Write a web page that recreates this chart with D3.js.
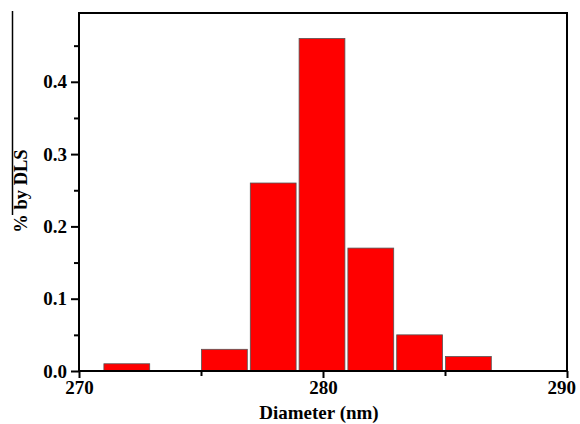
<!DOCTYPE html>
<html>
<head>
<meta charset="utf-8">
<script src="https://d3js.org/d3.v7.min.js"></script>
<style type="text/css">
body {margin:0;background:#fff;}
text {font-family:"Liberation Serif","Times New Roman",serif;font-weight:bold;fill:#000;}
</style>
</head>
<body>
<svg id="chart" width="580" height="424"></svg>
<script type="text/javascript">
// histogram bins (nm) and fraction by DLS
var binStart = [271, 275, 277, 279, 281, 283, 285];
var binEnd   = [273, 277, 279, 281, 283, 285, 287];
var pct      = [0.01, 0.03, 0.26, 0.46, 0.17, 0.05, 0.02];
var xTicks = [270, 280, 290];
var xMinor = [275, 285];
var yTicks = [0.0, 0.1, 0.2, 0.3, 0.4];
var yMinor = [0.05, 0.15, 0.25, 0.35, 0.45];

var svg = d3.select("#chart");
var pLeft = 79, pRight = 567, pTop = 13, pBottom = 371;

var x = d3.scaleLinear().domain([270, 290]).range([pLeft, pRight]);
var y = d3.scaleLinear().domain([0, 0.4]).range([pBottom, pBottom - 0.4 * 723]);

// bars
svg.selectAll("rect.bar").data(pct).enter().append("rect")
	.attr("class", "bar")
	.attr("x", function(d, i) { return x(binStart[i]) + 0.5; })
	.attr("width", function(d, i) { return x(binEnd[i]) - x(binStart[i]) - 3; })
	.attr("y", function(d) { return y(d); })
	.attr("height", function(d) { return pBottom - y(d); })
	.attr("fill", "#ff0000")
	.attr("stroke", "#555")
	.attr("stroke-width", 0.8);

// frame
svg.append("rect")
	.attr("x", pLeft).attr("y", pTop)
	.attr("width", pRight - pLeft).attr("height", pBottom - pTop)
	.attr("fill", "none").attr("stroke", "#000").attr("stroke-width", 2);

// y axis
svg.append("g").attr("transform", "translate(" + pLeft + ",0)")
	.call(d3.axisLeft(y).tickValues(yTicks).tickFormat(d3.format(".1f")).tickSize(8).tickPadding(4));
svg.append("g").attr("transform", "translate(" + pLeft + ",0)")
	.call(d3.axisLeft(y).tickValues(yMinor).tickFormat("").tickSize(5));

// x axis
var xAxis = svg.append("g").attr("transform", "translate(0," + pBottom + ")")
	.call(d3.axisBottom(x).tickValues(xTicks).tickFormat(d3.format("d")).tickSize(7).tickPadding(3));
svg.append("g").attr("transform", "translate(0," + pBottom + ")")
	.call(d3.axisBottom(x).tickValues(xMinor).tickFormat("").tickSize(5));

svg.selectAll(".domain").remove();
svg.selectAll(".tick line").attr("stroke", "#000").attr("stroke-width", 2);
svg.selectAll(".tick text")
	.attr("font-family", null).attr("font-size", null)
	.style("font-size", "19px");
// last x label sits against the page edge, as in the source
xAxis.selectAll(".tick text").filter(function(d) { return d === 290; }).attr("dx", "-0.3em");

// axis titles
svg.append("text")
	.attr("x", (pLeft + pRight) / 2 - 4).attr("y", 419)
	.attr("text-anchor", "middle")
	.style("font-size", "19px")
	.text("Diameter (nm)");

svg.append("text")
	.attr("transform", "translate(27,191) rotate(-90)")
	.attr("text-anchor", "middle")
	.style("font-size", "18.5px")
	.text("% by DLS");

// stray line left of the y title in the source image
svg.append("line")
	.attr("x1", 12.5).attr("x2", 12.5).attr("y1", 11).attr("y2", 215)
	.attr("stroke", "#000").attr("stroke-width", 1.5);
</script>
</body>
</html>
